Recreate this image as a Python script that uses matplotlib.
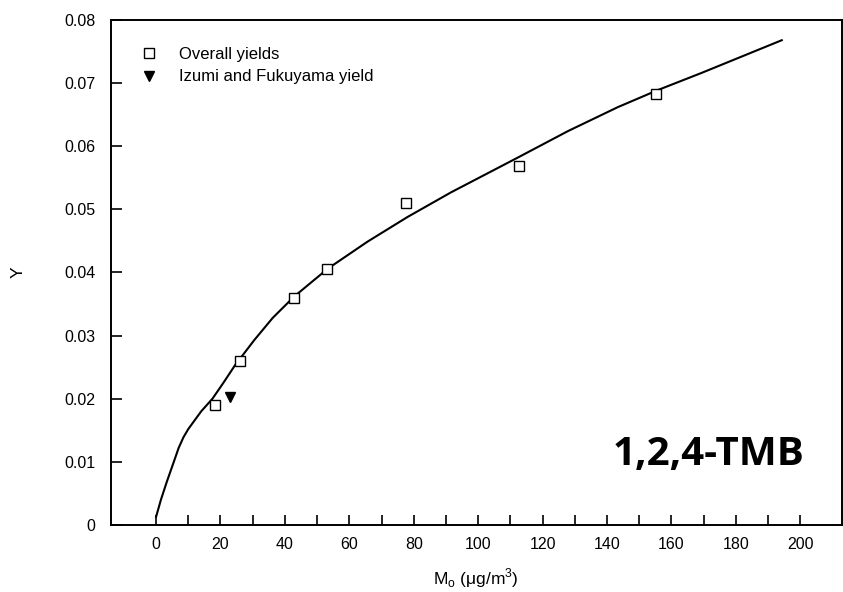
import matplotlib
matplotlib.use("Agg")
import matplotlib.pyplot as plt
from matplotlib.ticker import FixedLocator

# Data
overall_mo = [18.4, 26.1, 42.8, 53.1, 77.6, 112.8, 155.3]
overall_y = [0.0190, 0.0260, 0.0360, 0.0405, 0.0510, 0.0568, 0.0683]
izumi_mo = [22.9]
izumi_y = [0.0202]
curve_mo = [0, 1.5, 3.3, 5.5, 7.0, 8.5, 10.0, 12.0, 14.0, 17.5, 21, 24.5, 30.5,
            36.2, 42.9, 53.3, 65.7, 78.1, 91.6, 112.3, 127.9, 143.4, 155.8,
            169.3, 194.3]
curve_y = [0.0013, 0.0040, 0.0068, 0.0100, 0.0122, 0.0139, 0.0152, 0.0166,
           0.0180, 0.0200, 0.0226, 0.0253, 0.0293, 0.0328, 0.0362, 0.0406,
           0.0449, 0.0488, 0.0527, 0.0582, 0.0624, 0.0662, 0.0689, 0.0716,
           0.0768]
x_ticks = [0, 20, 40, 60, 80, 100, 120, 140, 160, 180, 200]
x_minor = [10, 30, 50, 70, 90, 110, 130, 150, 170, 190]
y_ticks = [0, 0.01, 0.02, 0.03, 0.04, 0.05, 0.06, 0.07, 0.08]
y_tick_labels = ["0", "0.01", "0.02", "0.03", "0.04", "0.05", "0.06", "0.07", "0.08"]

plt.rcParams['font.family'] = ['Liberation Sans', 'DejaVu Sans']

fig = plt.figure(figsize=(8.43, 5.92), dpi=100)
ax = fig.add_axes([0.1313, 0.1132, 0.8675, 0.853])

ax.plot(curve_mo, curve_y, color='black', lw=1.5, zorder=2)
ax.plot(overall_mo, overall_y, linestyle='none', marker='s', markersize=7.5,
        markerfacecolor='white', markeredgecolor='black', markeredgewidth=1.0,
        label='Overall yields', zorder=3)
ax.plot(izumi_mo, izumi_y, linestyle='none', marker='v', markersize=7.5,
        color='black', label='Izumi and Fukuyama yield', zorder=3)

ax.set_xlim(-14.1, 213)
ax.set_ylim(0, 0.08)
ax.set_xticks(x_ticks)
ax.xaxis.set_minor_locator(FixedLocator(x_minor))
ax.set_yticks(y_ticks)
ax.set_yticklabels(y_tick_labels)

ax.tick_params(axis='both', which='both', direction='in', top=False, right=False,
               labelsize=11.5, color='black')
ax.tick_params(axis='x', which='major', length=7, width=1.2, pad=9)
ax.tick_params(axis='x', which='minor', length=7, width=1.2)
ax.tick_params(axis='y', which='major', length=8, width=1.2, pad=11)

for s in ax.spines.values():
    s.set_linewidth(1.4)

ax.set_xlabel('M$_\\mathregular{o}$ (\u03bcg/m$^\\mathregular{3}$)', fontsize=12.5, labelpad=10)
ax.set_ylabel('Y', fontsize=12.5, labelpad=28)

ax.legend(loc='upper left', bbox_to_anchor=(0.03, 0.96), frameon=False,
          fontsize=12, handletextpad=1.2, labelspacing=0.45, borderaxespad=0,
          handlelength=1.2)

ax.text(0.818, 0.14, '1,2,4-TMB', transform=ax.transAxes, ha='center', va='center',
        fontsize=29, fontweight='bold', family=['Open Sans', 'DejaVu Sans'])

fig.savefig('out.png', dpi=100)
